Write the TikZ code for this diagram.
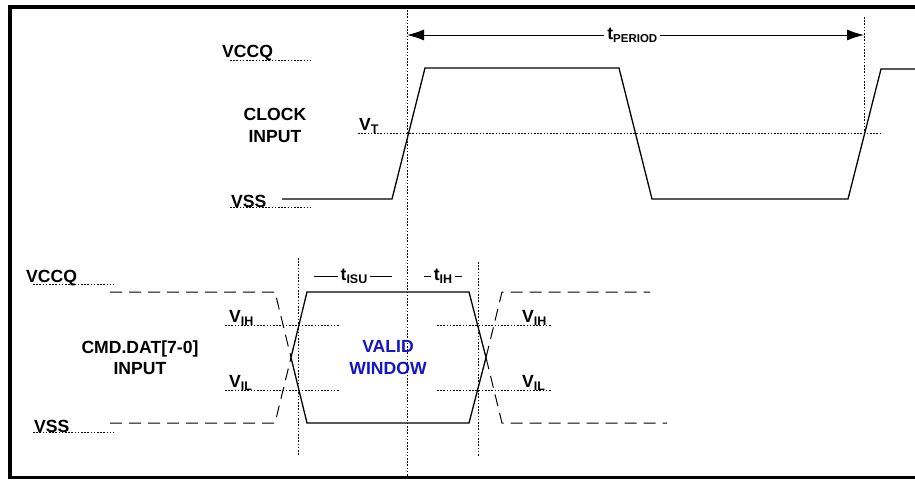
\documentclass[tikz,border=0pt]{standalone}
\usepackage{fontspec}
\setmainfont{Liberation Sans}
\usetikzlibrary{arrows.meta}
\definecolor{vblue}{RGB}{20,20,200}
\newcommand\sbs[1]{\raisebox{-3pt}{\fontsize{12.5}{12.5}\selectfont #1}}
\newcommand\sbp[1]{\raisebox{-3pt}{\fontsize{11.5}{11.5}\selectfont #1}}
\begin{document}
\begin{tikzpicture}[x=1pt,y=-1pt,
  lbl/.style={font=\fontsize{17.6}{20}\selectfont\bfseries, inner sep=0pt},
  dotln/.style={line width=0.9pt, dash pattern=on 1.6pt off 1.6pt},
  wave/.style={line width=1.3pt, line join=miter},
  dashln/.style={line width=1pt, dash pattern=on 12pt off 7pt},
  tlbl/.style={lbl, fill=white, inner xsep=3pt, inner ysep=1pt},
  arr/.style={{Latex[length=17pt,width=11pt]}-{Latex[length=17pt,width=11pt]}, line width=1pt}
]
\useasboundingbox (0,0) rectangle (915,479);
\fill[white] (0,0) rectangle (915,479);
% frame
\draw[line width=4pt] (10,479) -- (10,7) -- (915,7);
\draw[line width=3pt] (8,477.5) -- (915,477.5);

% ---------- clock section ----------
\draw[dotln] (407,10) -- (407,476);
\draw[dotln] (864,17) -- (864,133);
\coordinate (pl) at (407,35);
\coordinate (pr) at (864,35);
\draw[arr] (pl) -- (pr) node[tlbl, pos=0.493] (tper) {t\sbp{PERIOD}};

\draw[dotln] (230,60) -- (311,60);
\draw[dotln] (230,207) -- (311,207);
\draw[dotln] (358,133) -- (882,133);
\draw[wave] (282,199) -- (392,199) -- (425,68) -- (619,68) -- (652,199) -- (848,199) -- (881,69) -- (915,69);

\node[lbl, anchor=base west] (vccq1) at (222,57) {VCCQ};
\node[lbl, anchor=base] (clk1) at (275,120) {CLOCK};
\node[lbl, anchor=base] (clk2) at (275,142) {INPUT};
\node[lbl, anchor=base west] (vt) at (359,130) {V\sbs{T}};
\node[lbl, anchor=base west] (vss1) at (231,207) {VSS};

% ---------- data section ----------
\draw[dotln] (33,284) -- (114,284);
\draw[dotln] (33,432) -- (114,432);
\draw[dotln] (298,258) -- (298,456);
\draw[dotln] (478,262) -- (478,456);
\draw[dotln] (225,325) -- (340,325);
\draw[dotln] (437,325) -- (552,325);
\draw[dotln] (225,390) -- (340,390);
\draw[dotln] (437,390) -- (552,390);

\draw[dashln] (110,292) -- (275,292) -- (291,357.5);
\draw[dashln] (110,423) -- (275,423) -- (291,357.5);
\draw[wave] (291,357.5) -- (307,292) -- (469,292) -- (486,357.5);
\draw[wave] (291,357.5) -- (307,423) -- (469,423) -- (486,357.5);
\draw[dashln] (486,357.5) -- (502,292) -- (650,292);
\draw[dashln] (486,357.5) -- (502,423) -- (667,423);

\coordinate (s1) at (314,276);
\coordinate (s2) at (392,276);
\draw[line width=1pt] (s1) -- (s2) node[tlbl, midway, xshift=1pt] (tisu) {t\sbs{ISU}};
\coordinate (h1) at (424,276);
\coordinate (h2) at (462,276);
\draw[line width=1pt] (h1) -- (h2) node[tlbl, midway] (tih) {t\sbs{IH}};

\node[lbl, anchor=base west] (vccq2) at (26,282) {VCCQ};
\node[lbl, anchor=base west] (vss2) at (34,432) {VSS};
\node[lbl, anchor=base] (cmd1) at (140,353) {CMD.DAT[7-0]};
\node[lbl, anchor=base] (cmd2) at (140,374) {INPUT};
\node[lbl, anchor=base west] (vih1) at (229,322) {V\sbs{IH}};
\node[lbl, anchor=base west] (vil1) at (229,387) {V\sbs{IL}};
\node[lbl, anchor=base west] (vih2) at (522,322) {V\sbs{IH}};
\node[lbl, anchor=base west] (vil2) at (522,387) {V\sbs{IL}};
\node[lbl, text=vblue, anchor=base] (valid) at (388,352) {VALID};
\node[lbl, text=vblue, anchor=base] (window) at (388,374) {WINDOW};
\end{tikzpicture}
\end{document}
